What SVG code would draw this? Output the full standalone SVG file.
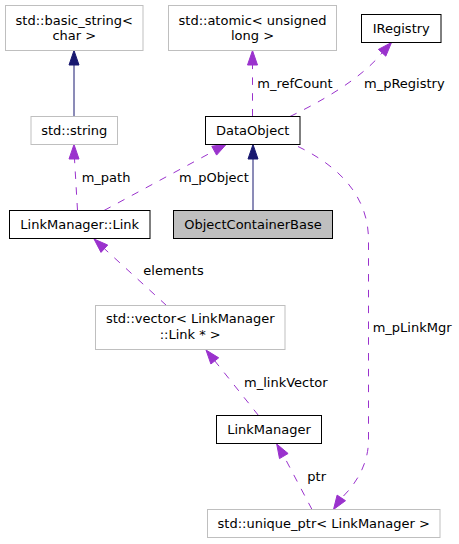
<svg xmlns="http://www.w3.org/2000/svg" width="459" height="544" viewBox="0 0 459 544">
<style>
text{font-family:"DejaVu Sans","Liberation Sans",sans-serif;font-size:13px;fill:#000}
.n text{text-anchor:middle}
.ext rect{fill:#fff;stroke:#bfbfbf;stroke-width:1}
.doc rect{fill:#fff;stroke:#000;stroke-width:1}
.cur rect{fill:#bfbfbf;stroke:#000;stroke-width:1}
.inh{stroke:#191970;fill:none;stroke-width:1}
.inhA{fill:#191970;stroke:#191970}
.use{stroke:#9a32cd;fill:none;stroke-width:1;stroke-dasharray:7.5,8.3}
.useA{fill:#9a32cd;stroke:#9a32cd}
</style>
<rect width="459" height="544" fill="#fff"/>
<g id="connectors">
  <path class="inh" d="M74,116.5V65"/>
  <polygon class="inhA" points="74,50.5 69,65 79,65"/>
  <path class="inh" d="M253,210.5V159"/>
  <polygon class="inhA" points="253,144.5 248,159 258,159"/>
  <path class="use" d="M77.5,210.5L74.5,159"/>
  <polygon class="useA" points="74,144.5 69,159 79,159"/>
  <path class="use" d="M104,210.5L214,151"/>
  <polygon class="useA" points="226.5,144 216.6,155.1 211.8,146.3"/>
  <path class="use" d="M252.5,116.5V65"/>
  <polygon class="useA" points="252.5,50.5 247.5,65 257.5,65"/>
  <path class="use" d="M290,116.5C318,103 360,80 382,53"/>
  <polygon class="useA" points="391.5,42.5 385.8,56.2 378.4,49.4"/>
  <path class="use" d="M298,146.5C330,162 368.5,190 368.5,240V440C368.5,465 355,485 341.5,498"/>
  <polygon class="useA" points="333.5,509.5 345.5,500.7 337.1,495.1"/>
  <path class="use" d="M166.5,305.5L104.4,248.7"/>
  <polygon class="useA" points="94,239 107.7,245 101,252.4"/>
  <path class="use" d="M258.5,415.5L214.8,360.9"/>
  <polygon class="useA" points="206,350 218.7,357.8 210.9,364"/>
  <path class="use" d="M312,509.5L283.8,456"/>
  <polygon class="useA" points="276.7,444 288.1,453.5 279.5,458.6"/>
  <text x="81.7" y="182">m_path</text>
  <text x="179" y="182">m_pObject</text>
  <text x="257.3" y="88">m_refCount</text>
  <text x="364" y="88">m_pRegistry</text>
  <text x="143.3" y="275">elements</text>
  <text x="244" y="386.7">m_linkVector</text>
  <text x="372.7" y="331.7">m_pLinkMgr</text>
  <text x="307.3" y="480.7">ptr</text>
</g>
<g id="node_basic_string" class="n ext">
  <rect x="5.5" y="5.5" width="137.5" height="45"/>
  <text x="74.25" y="24.5">std::basic_string&lt;</text>
  <text x="74.25" y="39.5">char &gt;</text>
</g>
<g id="node_string" class="n ext">
  <rect x="31" y="116.5" width="86.5" height="28"/>
  <text x="74.25" y="135">std::string</text>
</g>
<g id="node_link" class="n doc">
  <rect x="9.5" y="210.5" width="140.5" height="28"/>
  <text x="79.75" y="229">LinkManager::Link</text>
</g>
<g id="node_objectcontainerbase" class="n cur">
  <rect x="173.5" y="210.5" width="159" height="28"/>
  <text x="253" y="229">ObjectContainerBase</text>
</g>
<g id="node_dataobject" class="n doc">
  <rect x="205.5" y="116.5" width="94.5" height="28"/>
  <text x="252.75" y="135">DataObject</text>
</g>
<g id="node_atomic" class="n ext">
  <rect x="168.5" y="5.5" width="168" height="45"/>
  <text x="252.5" y="24.5">std::atomic&lt; unsigned</text>
  <text x="252.5" y="39.5">long &gt;</text>
</g>
<g id="node_iregistry" class="n doc">
  <rect x="361.5" y="14.5" width="79.5" height="28"/>
  <text x="401.25" y="33">IRegistry</text>
</g>
<g id="node_vector" class="n ext">
  <rect x="95.5" y="305.5" width="189.5" height="44"/>
  <text x="190.25" y="323">std::vector&lt; LinkManager</text>
  <text x="190.25" y="338.5">::Link * &gt;</text>
</g>
<g id="node_linkmanager" class="n doc">
  <rect x="216.5" y="415.5" width="105" height="28"/>
  <text x="269" y="434">LinkManager</text>
</g>
<g id="node_unique_ptr" class="n ext">
  <rect x="207.5" y="509.5" width="232.5" height="28"/>
  <text x="323.75" y="528">std::unique_ptr&lt; LinkManager &gt;</text>
</g>
</svg>
